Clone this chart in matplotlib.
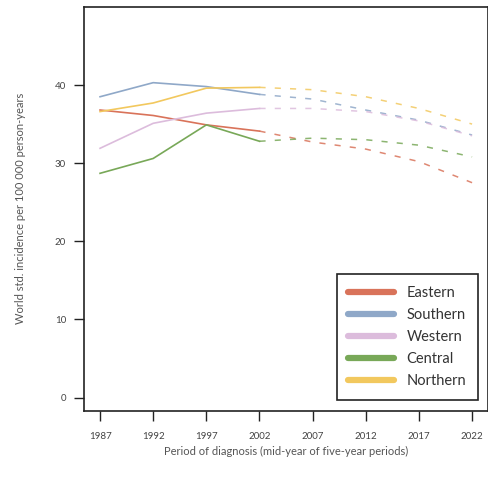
import matplotlib.pyplot as plt

plt.rcParams['font.family'] = ['Lato', 'DejaVu Sans']

# observed periods
years_obs = [1987, 1992, 1997, 2002]
# projected periods
years_proj = [2002, 2007, 2012, 2017, 2022]

regions = ['Eastern', 'Southern', 'Western', 'Central', 'Northern']
colors = ['#d9735a', '#8fa8c8', '#dcbcdc', '#78a858', '#f2c85e']

obs = {
    'Eastern':  [36.8, 36.1, 34.9, 34.1],
    'Southern': [38.5, 40.3, 39.8, 38.8],
    'Western':  [31.9, 35.1, 36.4, 37.0],
    'Central':  [28.7, 30.6, 34.9, 32.8],
    'Northern': [36.6, 37.7, 39.6, 39.7],
}
proj = {
    'Eastern':  [34.1, 32.7, 31.8, 30.2, 27.5],
    'Southern': [38.8, 38.2, 36.8, 35.5, 33.6],
    'Western':  [37.0, 37.0, 36.6, 35.4, 33.5],
    'Central':  [32.8, 33.2, 33.0, 32.3, 30.8],
    'Northern': [39.7, 39.4, 38.5, 37.0, 35.0],
}

fig = plt.figure(figsize=(4.89, 4.92), dpi=100, facecolor='white')
ax = fig.add_axes([0.172, 0.165, 0.826, 0.821])

for name, c in zip(regions, colors):
    ax.plot(years_obs, obs[name], color=c, linewidth=1.2, label=name)
    ax.plot(years_proj, proj[name], color=c, linewidth=1.1, linestyle=(0, (4, 6)),
            alpha=0.85)

ax.set_xlim(1985.5, 2023.5)
ax.set_ylim(-1.7, 50)
ax.set_xticks([1987, 1992, 1997, 2002, 2007, 2012, 2017, 2022])
ax.set_yticks([0, 10, 20, 30, 40])
ax.tick_params(axis='both', colors='#222222', labelcolor='#444444', labelsize=7,
               length=7, width=1)
ax.tick_params(axis='x', pad=8)
ax.tick_params(axis='y', pad=6)
for spine in ax.spines.values():
    spine.set_edgecolor('#222222')
    spine.set_linewidth(1.2)

ax.set_xlabel('Period of diagnosis (mid-year of five-year periods)',
              fontsize=8, color='#555555', labelpad=4)
ax.set_ylabel('World std. incidence per 100 000 person-years',
              fontsize=8, color='#555555', labelpad=21)

leg = ax.legend(loc='lower right', bbox_to_anchor=(0.975, 0.027), borderaxespad=0,
                fontsize=10.5, handlelength=3.1, handletextpad=0.9,
                labelspacing=0.55, fancybox=False, framealpha=1, borderpad=0.8)
leg.get_frame().set_edgecolor('#222222')
leg.get_frame().set_linewidth(1.2)
for h in leg.get_lines():
    h.set_linewidth(4.5)
    h.set_solid_capstyle('round')
for t in leg.get_texts():
    t.set_color('#333333')

fig.savefig('out.png', dpi=100, facecolor='white')
